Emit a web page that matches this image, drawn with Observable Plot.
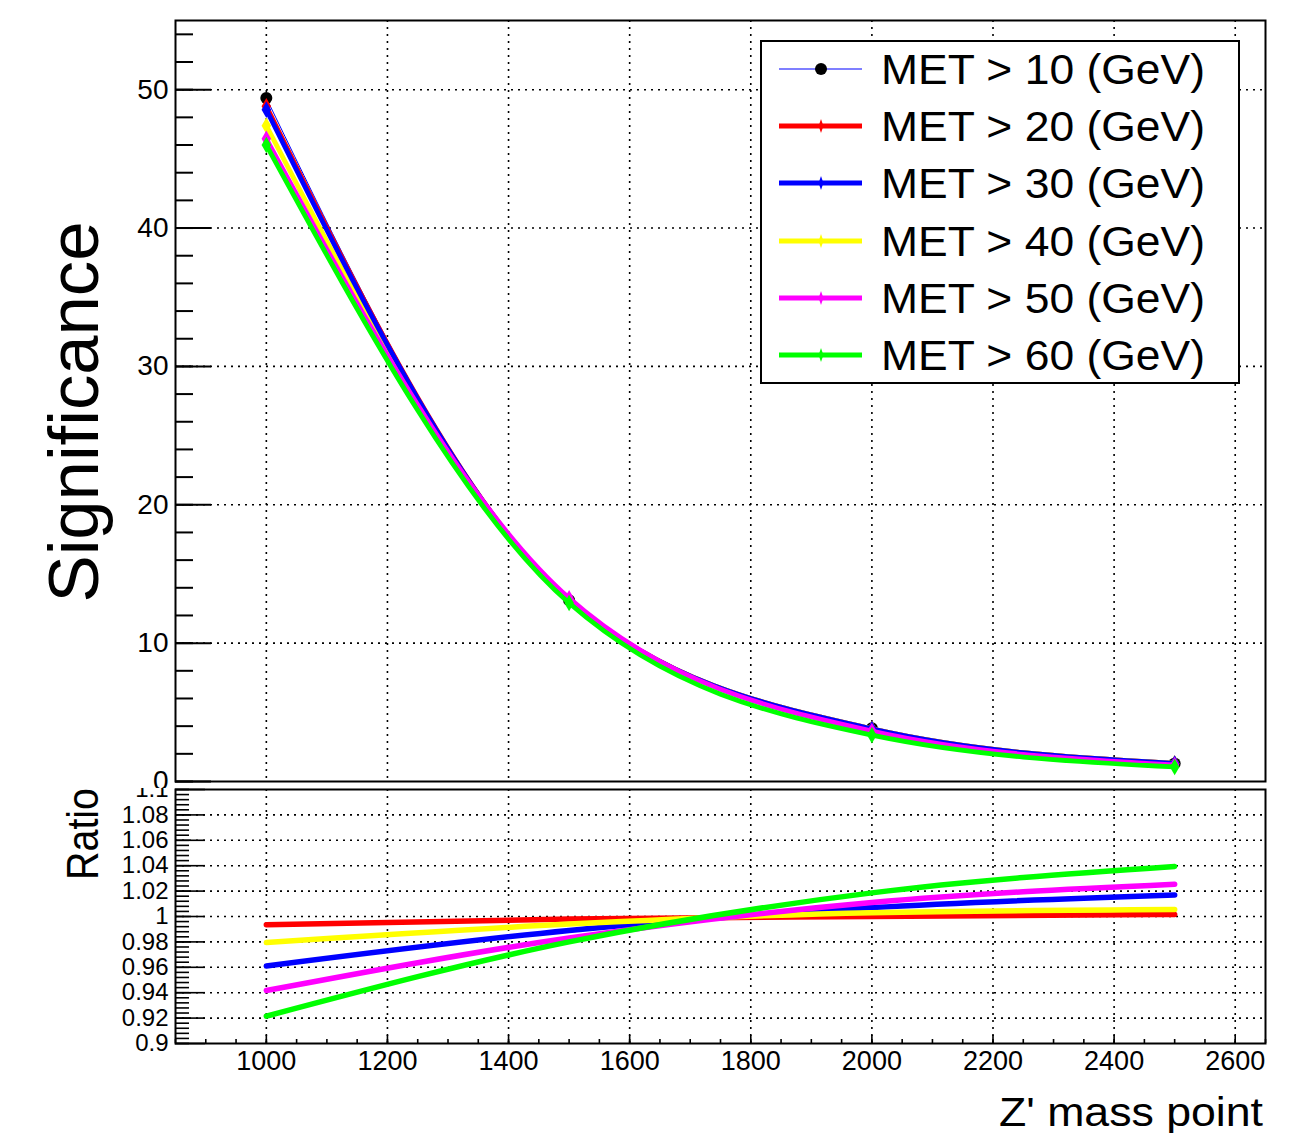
<!DOCTYPE html>
<html><head><meta charset="utf-8">
<script src="https://cdn.jsdelivr.net/npm/d3@7"></script>
<script src="https://cdn.jsdelivr.net/npm/@observablehq/plot@0.6"></script>
<style>
body{margin:0;background:#fff;}
#wrap{position:relative;width:1298px;height:1133px;overflow:hidden;font-family:"Liberation Sans",Arial,sans-serif;}
#wrap > svg{position:absolute;left:0;}
</style></head><body><div id="wrap"></div>
<script>
// ---- data ----
const massPoints = [1000, 1500, 2000, 2500];
const seriesNames = ["MET > 10 (GeV)", "MET > 20 (GeV)", "MET > 30 (GeV)", "MET > 40 (GeV)", "MET > 50 (GeV)", "MET > 60 (GeV)"];
const sigMET10 = [49.4, 13.1, 3.85, 1.3];
const sigMET20 = [48.8, 13.1, 3.8, 1.3];
const sigMET30 = [48.55, 13.1, 3.8, 1.3];
const sigMET40 = [47.4, 13.1, 3.8, 1.3];
const sigMET50 = [46.45, 13.25, 3.65, 1.2];
const sigMET60 = [46.0, 12.9, 3.35, 1.05];
const ratioMET20 = [0.9935, 0.998, 1.000, 1.0016];
const ratioMET30 = [0.961, 0.989, 1.007, 1.017];
const ratioMET40 = [0.9795, 0.994, 1.003, 1.0055];
const ratioMET50 = [0.9417, 0.983, 1.011, 1.0254];
const ratioMET60 = [0.9215, 0.980, 1.0186, 1.0394];
const xTickValues = [1000, 1200, 1400, 1600, 1800, 2000, 2200, 2400, 2600];
const sigTickValues = [0, 10, 20, 30, 40, 50];
const ratioTickValues = [0.9, 0.92, 0.94, 0.96, 0.98, 1, 1.02, 1.04, 1.06, 1.08, 1.1];

// ---- styles ----
const seriesColors = ["#000000", "#ff0000", "#0000ff", "#ffff00", "#ff00ff", "#00ff00"];
const topDrawOrder = [0, 1, 3, 2, 4, 5];
const FONT = "Liberation Sans, Arial, sans-serif";
const W = 1298, ML = 175, MR = 33;
const frameW = W - ML - MR;

const sigSeries = [sigMET10, sigMET20, sigMET30, sigMET40, sigMET50, sigMET60];
const ratioSeries = [null, ratioMET20, ratioMET30, ratioMET40, ratioMET50, ratioMET60];
const toRows = (vals) => massPoints.map((m, i) => ({mass: m, v: vals[i]}));

const dotted = {stroke: "#000", strokeWidth: 1.6, strokeDasharray: "2,5"};
const sigMinor = d3.range(0, 55.01, 2);
const ratioMinor = d3.range(0, 51).map(i => +(0.9 + i * 0.004).toFixed(4));
const xMinor = d3.range(850, 2650.1, 50);

// ---- top panel ----
const topMarks = [
  Plot.ruleX(xTickValues, dotted),
  Plot.ruleY(sigTickValues.filter(d => d > 0), dotted),
  Plot.tickY(sigMinor, {stroke: "#000", strokeWidth: 2, insetRight: frameW - 18}),
  Plot.tickY(sigTickValues, {stroke: "#000", strokeWidth: 2, insetRight: frameW - 36})
];
topDrawOrder.forEach(k => {
  const rows = toRows(sigSeries[k]);
  if (k === 0) {
    topMarks.push(Plot.line(rows, {x: "mass", y: "v", stroke: "#0000ff", strokeWidth: 1, curve: "monotone-x"}));
    topMarks.push(Plot.dot(rows, {x: "mass", y: "v", r: 6, fill: "#000", stroke: "none"}));
  } else {
    topMarks.push(Plot.line(rows, {x: "mass", y: "v", stroke: seriesColors[k], strokeWidth: 4.8, curve: "monotone-x"}));
    topMarks.push(Plot.dot(rows, {x: "mass", y: "v", r: 5, symbol: "diamond", fill: seriesColors[k], stroke: "none"}));
  }
});
topMarks.push(Plot.frame({stroke: "#000", strokeWidth: 2}));

const topPlot = Plot.plot({
  width: W, height: 788,
  marginLeft: ML, marginRight: MR, marginTop: 20, marginBottom: 7,
  x: {domain: [850, 2650], axis: null},
  y: {domain: [0, 55], ticks: sigTickValues, tickSize: 0, tickPadding: 7, label: null, tickFormat: d => String(d)},
  style: {fontFamily: FONT, fontSize: "28px", background: "white", overflow: "hidden", color: "#000"},
  marks: topMarks
});
topPlot.style.top = "0px";

// ---- bottom panel ----
const botMarks = [
  Plot.ruleX(xTickValues, dotted),
  Plot.ruleY(ratioTickValues.filter(d => d > 0.9 && d < 1.1), dotted),
  Plot.tickY(ratioMinor, {stroke: "#000", strokeWidth: 1.6, insetRight: frameW - 14}),
  Plot.tickY(ratioTickValues, {stroke: "#000", strokeWidth: 1.6, insetRight: frameW - 30}),
  Plot.tickX(xMinor, {stroke: "#000", strokeWidth: 1.6, insetTop: 254 - 4}),
  Plot.tickX(xTickValues, {stroke: "#000", strokeWidth: 1.6, insetTop: 254 - 8})
];
[1, 2, 3, 4, 5].forEach(k => {
  botMarks.push(Plot.line(toRows(ratioSeries[k]), {x: "mass", y: "v", stroke: seriesColors[k], strokeWidth: 5.5, curve: "monotone-x"}));
});
botMarks.push(Plot.frame({stroke: "#000", strokeWidth: 2}));

const bottomPlot = Plot.plot({
  width: W, height: 345,
  marginLeft: ML, marginRight: MR, marginTop: 1, marginBottom: 90,
  x: {domain: [850, 2650], ticks: xTickValues, tickSize: 0, tickPadding: 7, label: null, tickFormat: d => String(d)},
  y: {domain: [0.9, 1.1], ticks: ratioTickValues, tickSize: 0, tickPadding: 7, label: null, tickFormat: d => String(+d.toFixed(2))},
  style: {fontFamily: FONT, fontSize: "24px", background: "white", overflow: "hidden", color: "#000"},
  marks: botMarks
});
bottomPlot.style.top = "788px";
// x tick labels of the ratio panel are a little larger than its y tick labels
d3.select(bottomPlot).selectAll("text")
  .filter(function() { return xTickValues.map(String).includes(this.textContent); })
  .attr("font-size", 27);

const wrap = document.getElementById("wrap");
wrap.appendChild(topPlot);
wrap.appendChild(bottomPlot);

// ---- overlay: titles and legend ----
const ov = d3.select(wrap).append("svg")
  .attr("width", W).attr("height", 1133)
  .style("top", "0px").style("pointer-events", "none")
  .attr("font-family", FONT);

ov.append("text").text("Significance")
  .attr("transform", "translate(98,412) rotate(-90)")
  .attr("text-anchor", "middle").attr("font-size", 70)
  .attr("textLength", 381).attr("lengthAdjust", "spacingAndGlyphs");

ov.append("text").text("Ratio")
  .attr("transform", "translate(98,834) rotate(-90)")
  .attr("text-anchor", "middle").attr("font-size", 44)
  .attr("textLength", 92).attr("lengthAdjust", "spacingAndGlyphs");

ov.append("text").text("Z' mass point")
  .attr("x", 1263).attr("y", 1126)
  .attr("text-anchor", "end").attr("font-size", 40)
  .attr("textLength", 264).attr("lengthAdjust", "spacingAndGlyphs");

// legend
const lg = ov.append("g");
lg.append("rect").attr("x", 761).attr("y", 41).attr("width", 478).attr("height", 342)
  .attr("fill", "white").attr("stroke", "#000").attr("stroke-width", 2);
const rowY = [69, 126, 183, 241, 298, 355];
seriesNames.forEach((name, k) => {
  const y = rowY[k];
  if (k === 0) {
    lg.append("line").attr("x1", 779).attr("x2", 862).attr("y1", y).attr("y2", y)
      .attr("stroke", "#0000ff").attr("stroke-width", 1.2);
    lg.append("circle").attr("cx", 821).attr("cy", y).attr("r", 6).attr("fill", "#000");
  } else {
    lg.append("line").attr("x1", 779).attr("x2", 862).attr("y1", y).attr("y2", y)
      .attr("stroke", seriesColors[k]).attr("stroke-width", 5);
    lg.append("path").attr("d", d3.symbol(d3.symbolDiamond, 40)())
      .attr("transform", `translate(821,${y}) scale(0.7,1.2)`).attr("fill", seriesColors[k]);
  }
  lg.append("text").text(name).attr("x", 881).attr("y", y).attr("dy", "0.36em")
    .attr("font-size", 43).attr("textLength", 324).attr("lengthAdjust", "spacingAndGlyphs");
});
</script></body></html>
